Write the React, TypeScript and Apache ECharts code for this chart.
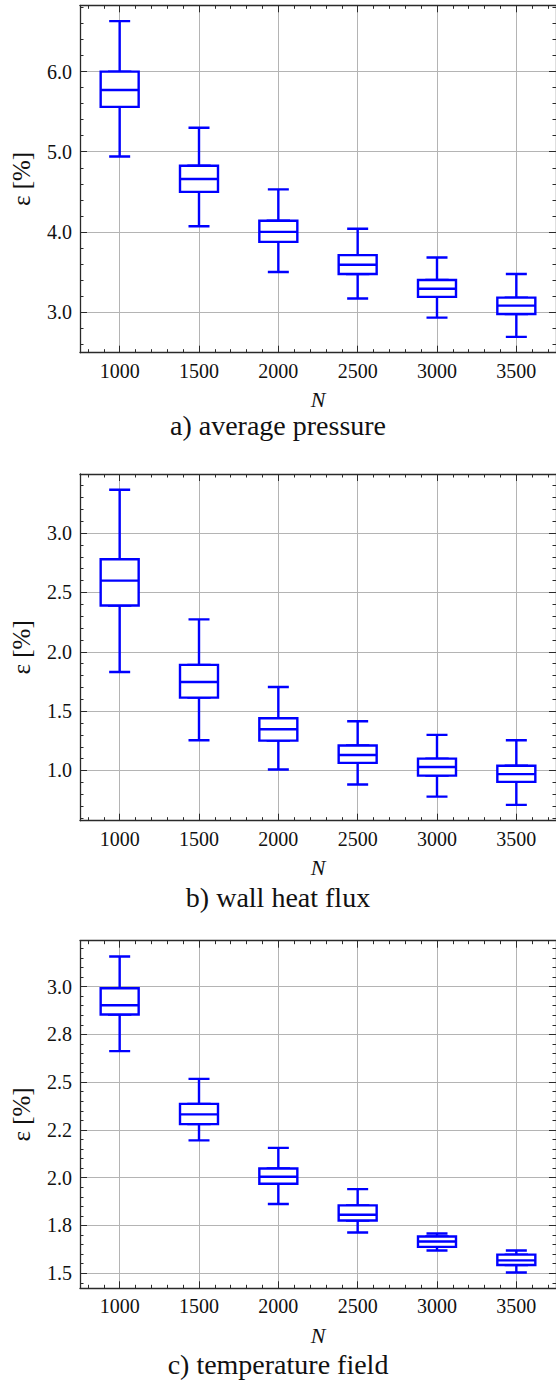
import React, { useEffect, useRef } from "react";
import * as echarts from "echarts";

// ---- data ----
const N_VALUES = [1000, 1500, 2000, 2500, 3000, 3500];

// each box: [lower whisker, Q1, median, Q3, upper whisker]
const pressureBoxes = [
  [4.94, 5.56, 5.77, 6.0, 6.63],
  [4.07, 4.5, 4.66, 4.825, 5.3],
  [3.5, 3.875, 4.0, 4.14, 4.53],
  [3.17, 3.475, 3.59, 3.71, 4.04],
  [2.93, 3.19, 3.29, 3.4, 3.68],
  [2.69, 2.975, 3.08, 3.18, 3.475],
];
const heatFluxBoxes = [
  [1.83, 2.39, 2.6, 2.78, 3.365],
  [1.255, 1.614, 1.746, 1.89, 2.273],
  [1.008, 1.252, 1.347, 1.44, 1.704],
  [0.882, 1.064, 1.131, 1.21, 1.415],
  [0.78, 0.957, 1.03, 1.1, 1.3],
  [0.71, 0.904, 0.969, 1.04, 1.255],
];
const temperatureBoxes = [
  [2.662, 2.854, 2.902, 2.991, 3.157],
  [2.195, 2.28, 2.331, 2.386, 2.517],
  [1.862, 1.968, 2.005, 2.048, 2.156],
  [1.713, 1.776, 1.806, 1.855, 1.94],
  [1.619, 1.638, 1.666, 1.692, 1.708],
  [1.504, 1.543, 1.567, 1.597, 1.619],
];

const PANEL_TITLES = ["a) average pressure", "b) wall heat flux", "c) temperature field"];
const PANEL_DATA = [pressureBoxes, heatFluxBoxes, temperatureBoxes];

// tick labels of panel c (matplotlib rounding of 0.25 steps)
const TEMP_TICKS = [1.5, 1.75, 2.0, 2.25, 2.5, 2.75, 3.0];
const TEMP_TICK_LABELS = ["1.5", "1.8", "2.0", "2.2", "2.5", "2.8", "3.0"];

// axis limits / steps
const X_MIN = 750;
const X_MAX = 3750;
const X_STEP = 500;
const Y_MIN = [2.493, 0.577, 1.421];
const Y_MAX = [6.827, 3.498, 3.24];
const Y_STEP = [1, 0.5, 0.25];

// layout
const GRID_TOP = [5.3, 474, 940.7];
const GRID_HEIGHT = [347.4, 346.7, 347.6];
const TITLE_Y = [425, 897, 1364];

const FONT = "'Liberation Serif', 'Times New Roman', 'DejaVu Serif', serif";
const AXIS_COLOR = "#2a2a2a";
const GRID_COLOR = "#b4b4b4";
const BOX_COLOR = "#0000ff";
const TEXT_COLOR = "#111111";

function yLabel(panel: number, v: number): string {
  if (panel === 2) {
    let best = 0;
    TEMP_TICKS.forEach((t, k) => {
      if (Math.abs(t - v) < Math.abs(TEMP_TICKS[best] - v)) best = k;
    });
    return TEMP_TICK_LABELS[best];
  }
  return v.toFixed(1);
}

function buildOption() {
  const grids: any[] = [];
  const xAxes: any[] = [];
  const yAxes: any[] = [];
  const series: any[] = [];
  const graphics: any[] = [];

  const axisLine = { show: true, onZero: false, lineStyle: { color: AXIS_COLOR, width: 1.3 } };
  const axisTick = { show: true, inside: true, length: 7, lineStyle: { color: AXIS_COLOR, width: 1 } };
  const minorTick = { show: true, splitNumber: 5, length: 3.5, lineStyle: { color: AXIS_COLOR, width: 1 } };
  const labelText = { fontFamily: FONT, fontSize: 20, color: TEXT_COLOR };

  PANEL_DATA.forEach((boxes, i) => {
    grids.push({ left: 80, top: GRID_TOP[i], width: 480, height: GRID_HEIGHT[i] });

    // bottom x
    xAxes.push({
      gridIndex: i,
      type: "value",
      position: "bottom",
      min: X_MIN,
      max: X_MAX,
      minInterval: X_STEP,
      maxInterval: X_STEP,
      name: "N",
      nameLocation: "middle",
      nameGap: 36,
      nameTextStyle: { fontFamily: FONT, fontStyle: "italic", fontSize: 22, color: TEXT_COLOR },
      axisLine,
      axisTick,
      minorTick,
      axisLabel: {
        ...labelText,
        margin: 8,
        showMinLabel: false,
        showMaxLabel: false,
        formatter: (v: number) => String(Math.round(v)),
      },
      splitLine: { show: true, lineStyle: { color: GRID_COLOR, width: 1 } },
    });
    // top x (mirror)
    xAxes.push({
      gridIndex: i,
      type: "value",
      position: "top",
      min: X_MIN,
      max: X_MAX,
      minInterval: X_STEP,
      maxInterval: X_STEP,
      axisLine,
      axisTick,
      minorTick,
      axisLabel: { show: false },
      splitLine: { show: false },
    });
    // left y
    yAxes.push({
      gridIndex: i,
      type: "value",
      position: "left",
      min: Y_MIN[i],
      max: Y_MAX[i],
      minInterval: Y_STEP[i],
      maxInterval: Y_STEP[i],
      name: "ε [%]",
      nameLocation: "middle",
      nameRotate: 90,
      nameGap: 46,
      nameTextStyle: { fontFamily: FONT, fontSize: 25, color: TEXT_COLOR },
      axisLine,
      axisTick,
      minorTick,
      axisLabel: {
        ...labelText,
        margin: 8,
        showMinLabel: false,
        showMaxLabel: false,
        formatter: (v: number) => yLabel(i, v),
      },
      splitLine: { show: true, lineStyle: { color: GRID_COLOR, width: 1 } },
    });
    // right y (mirror)
    yAxes.push({
      gridIndex: i,
      type: "value",
      position: "right",
      min: Y_MIN[i],
      max: Y_MAX[i],
      minInterval: Y_STEP[i],
      maxInterval: Y_STEP[i],
      axisLine,
      axisTick,
      minorTick,
      axisLabel: { show: false },
      splitLine: { show: false },
    });

    // whiskers (narrow caps)
    series.push({
      type: "boxplot",
      xAxisIndex: 2 * i,
      yAxisIndex: 2 * i,
      boxWidth: [21, 21],
      silent: true,
      z: 2,
      itemStyle: { color: "none", borderColor: BOX_COLOR, borderWidth: 2.4 },
      data: N_VALUES.map((n, k) => [n, ...boxes[k]]),
    });
    // boxes with median
    series.push({
      type: "boxplot",
      xAxisIndex: 2 * i + 1,
      yAxisIndex: 2 * i,
      boxWidth: [38, 38],
      silent: true,
      z: 3,
      itemStyle: { color: "#ffffff", borderColor: BOX_COLOR, borderWidth: 2.4 },
      data: N_VALUES.map((n, k) => {
        const b = boxes[k];
        return [n, b[1], b[1], b[2], b[3], b[3]];
      }),
    });

    graphics.push({
      type: "text",
      x: 278,
      y: TITLE_Y[i],
      style: {
        text: PANEL_TITLES[i],
        fontFamily: FONT,
        fontSize: 28,
        fill: TEXT_COLOR,
        align: "center",
        verticalAlign: "middle",
      },
    });
  });

  return {
    animation: false,
    backgroundColor: "#ffffff",
    textStyle: { fontFamily: FONT },
    grid: grids,
    xAxis: xAxes,
    yAxis: yAxes,
    series,
    graphic: graphics,
  };
}

export default function App() {
  const ref = useRef<HTMLDivElement>(null);
  useEffect(() => {
    if (!ref.current) return;
    const chart = echarts.init(ref.current, null, { renderer: "svg" });
    chart.setOption(buildOption() as any);
    return () => chart.dispose();
  }, []);
  return (
    <div
      ref={ref}
      style={{ position: "absolute", left: 0, top: 0, width: 556, height: 1384, background: "#fff" }}
    />
  );
}
